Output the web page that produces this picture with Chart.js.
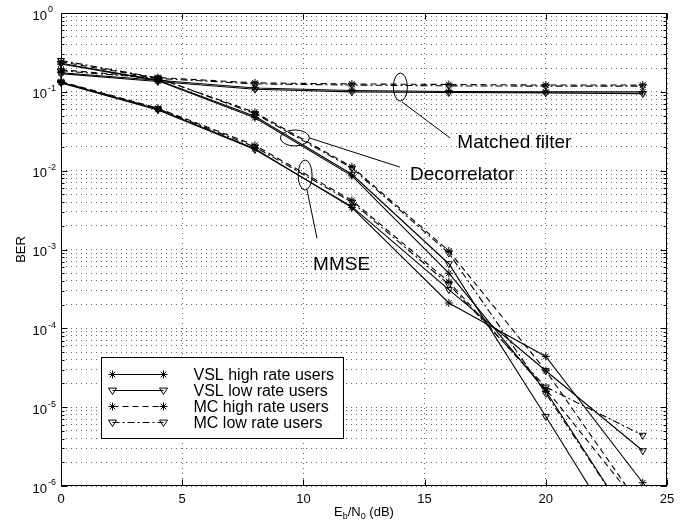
<!DOCTYPE html>
<html>
<head>
<meta charset="utf-8">
<script src="https://cdn.jsdelivr.net/npm/chart.js@4.4.1/dist/chart.umd.min.js"></script>
<style>
  html, body { margin: 0; padding: 0; background: #fff; }
  canvas { display: block; }
</style>
</head>
<body>
<canvas id="myChart" width="686" height="523"></canvas>
<script>
// Eb/N0 points (dB)
const ebno = [0, 4, 8, 12, 16, 20, 24]

// matched filter
const mfVslHigh = [0.175, 0.14, 0.112, 0.104, 0.101, 0.100, 0.100]
const mfVslLow  = [0.17, 0.135, 0.108, 0.100, 0.098, 0.097, 0.095]
const mfMcHigh  = [0.19, 0.152, 0.130, 0.126, 0.124, 0.122, 0.122]
const mfMcLow   = [0.185, 0.148, 0.126, 0.122, 0.119, 0.118, 0.118]

// decorrelator
const dcVslHigh = [0.225, 0.138, 0.047, 0.0086, 5.0e-4, 1.6e-5, 2.0e-7]
const dcVslLow  = [0.23, 0.14, 0.049, 0.0090, 6.6e-4, 7.6e-6, 8.0e-8]
const dcMcHigh  = [0.24, 0.148, 0.055, 0.0112, 9.6e-4, 2.9e-5, 5.0e-7]
const dcMcLow   = [0.25, 0.15, 0.053, 0.0108, 9.0e-4, 1.5e-5, 2.0e-7]

// MMSE
const mmVslHigh = [0.132, 0.060, 0.019, 0.0034, 2.1e-4, 4.4e-5, 1.1e-6]
const mmVslLow  = [0.130, 0.059, 0.0185, 0.0035, 3.1e-4, 2.9e-5, 2.8e-6]
const mmMcHigh  = [0.135, 0.062, 0.021, 0.0042, 3.9e-4, 1.7e-5, 5.0e-7]
const mmMcLow   = [0.133, 0.061, 0.020, 0.0040, 3.6e-4, 1.8e-5, 4.4e-6]

const legendLabels = ['VSL high rate users', 'VSL low rate users', 'MC high rate users', 'MC low rate users']

const xTicks = [0, 5, 10, 15, 20, 25]
const yDecades = [1e-6, 1e-5, 1e-4, 1e-3, 1e-2, 1e-1, 1]
const yExponents = ['-6', '-5', '-4', '-3', '-2', '-1', '0']

// label, ellipse centre, leader line from/to, text position (data units)
const notes = [
    {text: 'Matched filter', cx: 14.0, cy: 0.115, rx: 7, ry: 14, from: [14.07, 0.0743], to: [16.05, 0.026], tx: 16.35, ty: 0.0224},
    {text: 'Decorrelator', cx: 9.65, cy: 0.026, rx: 14.5, ry: 8, from: [10.25, 0.026], to: [13.98, 0.0111], tx: 14.4, ty: 0.0088},
    {text: 'MMSE', cx: 10.07, cy: 0.0088, rx: 7, ry: 15, from: [10.15, 0.00569], to: [10.56, 0.00139], tx: 10.4, ty: 6.35e-4}
]

const FONT = '"Liberation Sans", Arial, Helvetica, sans-serif'

const kinds = [
    {dash: [], point: 'star', rot: 0},
    {dash: [], point: 'triangle', rot: 180},
    {dash: [6, 4], point: 'star', rot: 0},
    {dash: [7, 3, 2, 3], point: 'triangle', rot: 180}
]

const groups = [
    [mfVslHigh, mfVslLow, mfMcHigh, mfMcLow],
    [dcVslHigh, dcVslLow, dcMcHigh, dcMcLow],
    [mmVslHigh, mmVslLow, mmMcHigh, mmMcLow]
]

const datasets = []
for (const g of groups) {
    g.forEach((series, k) => {
        datasets.push({
            label: legendLabels[k],
            data: ebno.map((x, i) => ({x: x, y: series[i]})),
            borderColor: '#000',
            borderWidth: 1.1,
            borderDash: kinds[k].dash,
            pointStyle: kinds[k].point,
            pointRotation: kinds[k].rot,
            pointRadius: 4,
            pointBorderWidth: 1,
            pointBorderColor: '#000',
            pointBackgroundColor: 'rgba(0,0,0,0)',
            fill: false,
            tension: 0,
            clip: {left: 8, top: 8, right: 8, bottom: 0}
        })
    })
}

// minor grid for log axis: 1..9 per decade
const yGrid = []
for (let d = 0; d < yDecades.length - 1; d++) {
    for (let m = 1; m < 10; m++) yGrid.push(yDecades[d] * m)
}
yGrid.push(1)

function drawMarker(ctx, kind, x, y, r) {
    ctx.beginPath()
    if (kind.point === 'star') {
        ctx.moveTo(x - r, y); ctx.lineTo(x + r, y)
        ctx.moveTo(x, y - r); ctx.lineTo(x, y + r)
        const d = r * 0.707
        ctx.moveTo(x - d, y - d); ctx.lineTo(x + d, y + d)
        ctx.moveTo(x - d, y + d); ctx.lineTo(x + d, y - d)
    } else {
        ctx.moveTo(x - r, y - r * 0.6)
        ctx.lineTo(x + r, y - r * 0.6)
        ctx.lineTo(x, y + r)
        ctx.closePath()
    }
    ctx.stroke()
}

const decorations = {
    id: 'decorations',
    afterDraw(chart) {
        const {ctx, chartArea: ca, scales: {x, y}} = chart
        ctx.save()
        ctx.strokeStyle = '#000'
        ctx.fillStyle = '#000'
        ctx.lineWidth = 1
        ctx.setLineDash([])

        const L = Math.round(ca.left) + 0.5, R = Math.round(ca.right) - 0.5
        const T = Math.round(ca.top) + 0.5, B = Math.round(ca.bottom) - 0.5
        ctx.strokeRect(L, T, R - L, B - T)

        // inward ticks
        ctx.beginPath()
        for (const v of yGrid) {
            const py = Math.round(y.getPixelForValue(v)) + 0.5
            const len = yDecades.includes(v) ? 6 : 3
            ctx.moveTo(L, py); ctx.lineTo(L + len, py)
            ctx.moveTo(R, py); ctx.lineTo(R - len, py)
        }
        for (const v of xTicks) {
            const px = Math.round(x.getPixelForValue(v)) + 0.5
            ctx.moveTo(px, B); ctx.lineTo(px, B - 6)
            ctx.moveTo(px, T); ctx.lineTo(px, T + 6)
        }
        ctx.stroke()

        // y tick labels 10^k
        yDecades.forEach((v, i) => {
            const py = y.getPixelForValue(v)
            ctx.font = '13px ' + FONT
            ctx.textAlign = 'right'
            ctx.textBaseline = 'middle'
            ctx.fillText('10', ca.left - 14, py + 3)
            ctx.font = '9px ' + FONT
            ctx.textAlign = 'left'
            ctx.fillText(yExponents[i], ca.left - 13, py - 3)
        })

        // x tick labels
        ctx.font = '13px ' + FONT
        ctx.textAlign = 'center'
        ctx.textBaseline = 'top'
        for (const v of xTicks) ctx.fillText(String(v), x.getPixelForValue(v), ca.bottom + 7)

        // x title E_b/N_0 (dB)
        const parts = [['E', 13, 0], ['b', 9, 3], ['/N', 13, 0], ['0', 9, 3], [' (dB)', 13, 0]]
        let w = 0
        for (const p of parts) { ctx.font = p[1] + 'px ' + FONT; w += ctx.measureText(p[0]).width }
        let cx = (ca.left + ca.right) / 2 - w / 2
        ctx.textAlign = 'left'
        ctx.textBaseline = 'alphabetic'
        for (const p of parts) {
            ctx.font = p[1] + 'px ' + FONT
            ctx.fillText(p[0], cx, ca.bottom + 30 + p[2])
            cx += ctx.measureText(p[0]).width
        }

        // y title
        ctx.save()
        ctx.translate(ca.left - 40, (ca.top + ca.bottom) / 2)
        ctx.rotate(-Math.PI / 2)
        ctx.font = '13px ' + FONT
        ctx.textAlign = 'center'
        ctx.textBaseline = 'middle'
        ctx.fillText('BER', 0, 0)
        ctx.restore()

        // annotations
        ctx.lineWidth = 1
        for (const n of notes) {
            ctx.beginPath()
            ctx.ellipse(x.getPixelForValue(n.cx), y.getPixelForValue(n.cy), n.rx, n.ry, 0, 0, Math.PI * 2)
            ctx.stroke()
            ctx.beginPath()
            ctx.moveTo(x.getPixelForValue(n.from[0]), y.getPixelForValue(n.from[1]))
            ctx.lineTo(x.getPixelForValue(n.to[0]), y.getPixelForValue(n.to[1]))
            ctx.stroke()
            ctx.font = '19px ' + FONT
            ctx.textAlign = 'left'
            ctx.textBaseline = 'middle'
            ctx.fillText(n.text, x.getPixelForValue(n.tx), y.getPixelForValue(n.ty))
        }

        // legend box
        const bx = Math.round(ca.left + 40) + 0.5, by = Math.round(ca.top + 344) + 0.5
        const bw = 242, bh = 81
        ctx.fillStyle = '#fff'
        ctx.fillRect(bx, by, bw, bh)
        ctx.strokeRect(bx, by, bw, bh)
        ctx.fillStyle = '#000'
        legendLabels.forEach((lab, i) => {
            const ry = by + 17 + i * 16
            const k = kinds[i]
            ctx.setLineDash(k.dash)
            ctx.beginPath()
            ctx.moveTo(bx + 11, ry); ctx.lineTo(bx + 62, ry)
            ctx.stroke()
            ctx.setLineDash([])
            drawMarker(ctx, k, bx + 11, ry, 4)
            drawMarker(ctx, k, bx + 62, ry, 4)
            ctx.font = '16px ' + FONT
            ctx.textAlign = 'left'
            ctx.textBaseline = 'middle'
            ctx.fillText(lab, bx + 92, ry + 1)
        })
        ctx.restore()
    }
}

let chart = new Chart(document.getElementById('myChart').getContext('2d'), {
    type: 'line',
    data: {datasets: datasets},
    options: {
        responsive: false,
        animation: false,
        devicePixelRatio: 1,
        layout: {padding: {left: 61, top: 13, right: 19, bottom: 37}},
        plugins: {
            legend: {display: false},
            tooltip: {enabled: false}
        },
        scales: {
            x: {
                type: 'linear',
                min: 0,
                max: 25,
                ticks: {display: false, stepSize: 5},
                grid: {color: '#666', lineWidth: 1, drawTicks: false},
                border: {display: false, dash: [1, 4]},
                afterFit: (s) => { s.height = 0 }
            },
            y: {
                type: 'logarithmic',
                min: 1e-6,
                max: 1,
                afterBuildTicks: (s) => { s.ticks = yGrid.map(v => ({value: v})) },
                ticks: {display: false, autoSkip: false},
                grid: {color: '#666', lineWidth: 1, drawTicks: false},
                border: {display: false, dash: [1, 4]},
                afterFit: (s) => { s.width = 0 }
            }
        }
    },
    plugins: [decorations]
})
</script>
</body>
</html>
